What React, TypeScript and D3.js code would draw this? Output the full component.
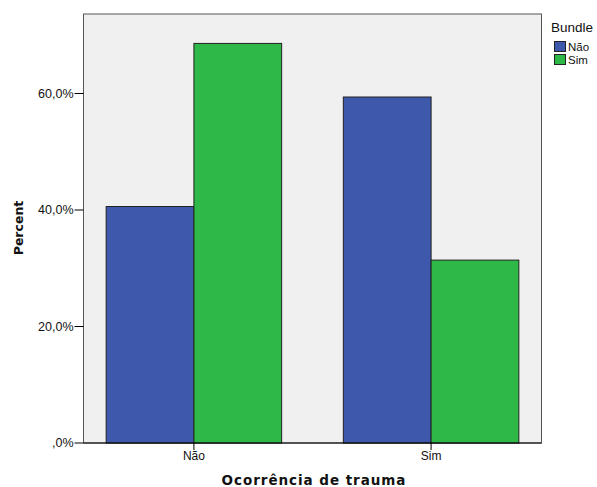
import React, { useEffect, useRef } from "react";
import * as d3 from "d3";

const categories = ["Não", "Sim"];
const seriesNames = ["Não", "Sim"];
const seriesNao = [40.6, 59.4];
const seriesSim = [68.6, 31.4];
const yTicks = [0, 20, 40, 60];
const yTickLabels = [",0%", "20,0%", "40,0%", "60,0%"];
const colors = ["#3E58AC", "#2EB848"];

export default function App() {
  const ref = useRef<SVGSVGElement>(null);
  useEffect(() => {
    const svg = d3.select(ref.current);
    svg.selectAll("*").remove();
    const W = 597, H = 487;
    const L = 83.5, R = 541.5, T = 14, B = 443;

    const y = d3.scaleLinear().domain([0, 73.65]).range([B, T]);
    const x = d3.scaleBand().domain(categories).range([L, R]).paddingInner(0.26).paddingOuter(0.0955);
    const xs = d3.scaleBand().domain(seriesNames).range([0, x.bandwidth()]);

    svg.append("rect").attr("x", 0).attr("y", 0).attr("width", W).attr("height", H).attr("fill", "#fff");
    svg.append("rect").attr("x", L).attr("y", T).attr("width", R - L).attr("height", B - T)
      .attr("fill", "#F0F0F0").attr("stroke", "#555").attr("stroke-width", 1);

    const series = [seriesNao, seriesSim];
    series.forEach((vals, si) => {
      svg.append("g").selectAll("rect").data(vals).join("rect")
        .attr("x", (_d, i) => (x(categories[i]) as number) + (xs(seriesNames[si]) as number))
        .attr("y", (d) => y(d))
        .attr("width", xs.bandwidth())
        .attr("height", (d) => B - y(d))
        .attr("fill", colors[si])
        .attr("stroke", "#222")
        .attr("stroke-width", 1);
    });

    // y axis
    const ya = svg.append("g");
    yTicks.forEach((t, i) => {
      ya.append("line").attr("x1", L - 9).attr("x2", L).attr("y1", y(t)).attr("y2", y(t)).attr("stroke", "#000");
      ya.append("text").attr("x", L - 10).attr("y", y(t)).attr("dy", "0.35em").attr("text-anchor", "end")
        .attr("font-family", "Liberation Sans, Arial, sans-serif").attr("font-size", 12.5).attr("fill", "#111")
        .text(yTickLabels[i]);
    });
    svg.append("line").attr("x1", L).attr("x2", R).attr("y1", B).attr("y2", B).attr("stroke", "#000");

    // x axis
    categories.forEach((c) => {
      const cx = (x(c) as number) + x.bandwidth() / 2;
      svg.append("line").attr("x1", cx).attr("x2", cx).attr("y1", B).attr("y2", B + 7).attr("stroke", "#000");
      svg.append("text").attr("x", cx).attr("y", B + 17).attr("text-anchor", "middle")
        .attr("font-family", "Liberation Sans, Arial, sans-serif").attr("font-size", 12).attr("fill", "#111")
        .text(c);
    });

    svg.append("text").attr("x", 314).attr("y", 485)
      .attr("text-anchor", "middle").attr("font-family", "DejaVu Sans, Verdana, sans-serif")
      .attr("font-weight", "bold").attr("font-size", 13.5).attr("letter-spacing", 0.95).attr("fill", "#111")
      .text("Ocorrência de trauma");

    svg.append("text").attr("transform", `translate(23,228) rotate(-90)`)
      .attr("text-anchor", "middle").attr("font-family", "DejaVu Sans, Verdana, sans-serif")
      .attr("font-weight", "bold").attr("font-size", 12.5).attr("fill", "#111")
      .text("Percent");

    // legend
    const lg = svg.append("g");
    lg.append("text").attr("x", 551).attr("y", 32).attr("font-family", "Liberation Sans, Arial, sans-serif")
      .attr("font-size", 13.5).attr("fill", "#111").text("Bundle");
    seriesNames.forEach((s, i) => {
      const yy = 41 + i * 13;
      lg.append("rect").attr("x", 554.5).attr("y", yy + 0.5).attr("width", 11).attr("height", 10)
        .attr("fill", colors[i]).attr("stroke", "#222");
      lg.append("text").attr("x", 568).attr("y", yy + 10).attr("font-family", "Liberation Sans, Arial, sans-serif")
        .attr("font-size", 11.5).attr("fill", "#111").text(s);
    });
  }, []);
  return (
    <svg ref={ref} width={597} height={487} style={{ position: "absolute", left: 0, top: 0 }} />
  );
}
